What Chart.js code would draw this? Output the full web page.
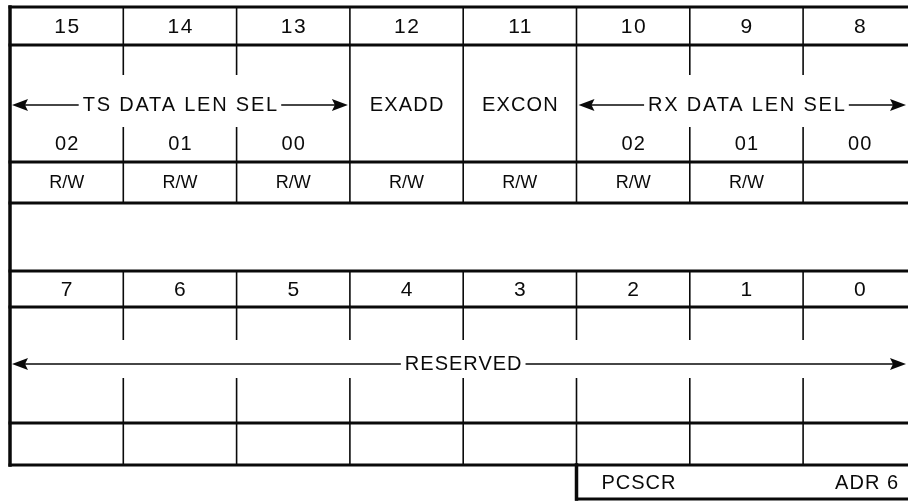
<!DOCTYPE html>
<html>
<head>
<meta charset="utf-8">
<script src="https://cdn.jsdelivr.net/npm/chart.js@4/dist/chart.umd.min.js"></script>
<style>
  html, body { margin: 0; padding: 0; background: #ffffff; }
  #wrap { width: 908px; height: 502px; position: relative; }
</style>
</head>
<body>
<div id="wrap"><canvas id="c"></canvas></div>
<script>
// ---------- data ----------
const topBits = ['15', '14', '13', '12', '11', '10', '9', '8'];
const bottomBits = ['7', '6', '5', '4', '3', '2', '1', '0'];
const fieldNames = ['TS DATA LEN SEL', 'EXADD', 'EXCON', 'RX DATA LEN SEL'];
const fieldStart = [0, 3, 4, 5];
const fieldEnd = [3, 4, 5, 8];
const fieldArrow = [true, false, false, true];
const subLabels = ['02', '01', '00', '', '', '02', '01', '00'];
const accessLabels = ['R/W', 'R/W', 'R/W', 'R/W', 'R/W', 'R/W', 'R/W', ''];
const bottomField = 'RESERVED';
const regName = 'PCSCR';
const regAddr = 'ADR 6';

// ---------- layout (row positions in the vertical scale's units) ----------
const ROW = {
  top: 7, numLine: 45, fieldLine: 162, accLine: 203,
  bTop: 271, bNum: 307, bField: 423, bBot: 465, tagBot: 499
};
const TXT = {
  num: 27, field: 105, sub: 144, acc: 183,
  bNum: 290, bField: 364, tag: 483
};
const TICK = { topA: 75, topB: 127, botA: 340, botB: 378 };
const NCOL = topBits.length;
const COLW = 113.3, X0 = 10, W = 908, H = 502;

// ---------- build line segments ----------
function seg(arr, x1, y1, x2, y2) {
  arr.push({x: x1, y: y1}, {x: x2, y: y2}, {x: x1, y: null});
}
const XR = (W - X0) / COLW + 0.2;
const thickH = [], thinV = [], border = [];
[ROW.top, ROW.numLine, ROW.fieldLine, ROW.accLine, ROW.bTop, ROW.bNum, ROW.bField, ROW.bBot]
  .forEach(y => seg(thickH, 0, y, XR, y));
seg(thickH, 5, ROW.tagBot, XR, ROW.tagBot);
seg(border, 0, ROW.top, 0, ROW.bBot);
seg(border, 5, ROW.bBot, 5, ROW.tagBot);

const fieldBounds = new Set();
fieldStart.forEach(v => fieldBounds.add(v));
fieldEnd.forEach(v => fieldBounds.add(v));
for (let k = 1; k < NCOL; k++) {
  seg(thinV, k, ROW.top, k, ROW.numLine);
  if (fieldBounds.has(k)) {
    seg(thinV, k, ROW.numLine, k, ROW.fieldLine);
  } else {
    seg(thinV, k, ROW.numLine, k, TICK.topA);
    seg(thinV, k, TICK.topB, k, ROW.fieldLine);
  }
  seg(thinV, k, ROW.fieldLine, k, ROW.accLine);
  seg(thinV, k, ROW.bTop, k, ROW.bNum);
  seg(thinV, k, ROW.bNum, k, TICK.botA);
  seg(thinV, k, TICK.botB, k, ROW.bField);
  seg(thinV, k, ROW.bField, k, ROW.bBot);
}

const FONT = '"Liberation Sans", Arial, Helvetica, sans-serif';

const textPlugin = {
  id: 'registerText',
  afterDatasetsDraw(chart) {
    const ctx = chart.ctx, xs = chart.scales.x, ys = chart.scales.y;
    const px = v => xs.getPixelForValue(v), py = v => ys.getPixelForValue(v);
    ctx.save();
    ctx.fillStyle = '#0a0a0a';
    ctx.strokeStyle = '#0a0a0a';
    ctx.textBaseline = 'middle';
    function txt(s, x, y, size, sp, align) {
      ctx.font = size + 'px ' + FONT;
      ctx.letterSpacing = sp + 'px';
      ctx.textAlign = align || 'center';
      let xx = x;
      if ((align || 'center') === 'center') xx += sp / 2;
      ctx.fillText(s, xx, y);
      return ctx.measureText(s).width - sp;
    }
    function head(x, y, dir) {
      const L = 16, hw = 6;
      ctx.beginPath();
      ctx.moveTo(x, y);
      ctx.lineTo(x - dir * L, y - hw);
      ctx.lineTo(x - dir * (L - 3), y);
      ctx.lineTo(x - dir * L, y + hw);
      ctx.closePath();
      ctx.fill();
    }
    function arrow(label, c0, c1, y, size, sp) {
      const xa = px(c0) + 2, xb = Math.min(px(c1), chart.chartArea.right) - 2;
      const cx = px((c0 + c1) / 2);
      const w = txt(label, cx, y, size, sp);
      ctx.lineWidth = 1.7;
      ctx.beginPath();
      ctx.moveTo(xa + 8, y); ctx.lineTo(cx - w / 2 - 4, y);
      ctx.moveTo(cx + w / 2 + 4, y); ctx.lineTo(xb - 8, y);
      ctx.stroke();
      head(xa, y, -1);
      head(xb, y, 1);
    }
    // bit numbers
    topBits.forEach((b, i) => txt(b, px(i + 0.5), py(TXT.num), 21, 1.5));
    bottomBits.forEach((b, i) => txt(b, px(i + 0.5), py(TXT.bNum), 21, 1.5));
    // fields
    fieldNames.forEach((f, i) => {
      if (fieldArrow[i]) arrow(f, fieldStart[i], fieldEnd[i], py(TXT.field), 20, 1.8);
      else txt(f, px((fieldStart[i] + fieldEnd[i]) / 2), py(TXT.field), 20, 1.2);
    });
    subLabels.forEach((s, i) => { if (s) txt(s, px(i + 0.5), py(TXT.sub), 20, 1.2); });
    accessLabels.forEach((s, i) => { if (s) txt(s, px(i + 0.5), py(TXT.acc), 18, 0); });
    arrow(bottomField, 0, NCOL, py(TXT.bField), 20, 1);
    // tag
    txt(regName, px(5) + 25, py(TXT.tag), 20, 1, 'left');
    txt(regAddr, chart.chartArea.right - 9, py(TXT.tag), 20, 1, 'right');
    ctx.restore();
  }
};

new Chart(document.getElementById('c'), {
  type: 'scatter',
  data: {
    datasets: [
      { data: thickH, showLine: true, borderColor: '#0a0a0a', borderWidth: 3, pointRadius: 0, spanGaps: false, clip: false, borderCapStyle: 'square' },
      { data: border, showLine: true, borderColor: '#0a0a0a', borderWidth: 3.5, pointRadius: 0, spanGaps: false, clip: false, borderCapStyle: 'square' },
      { data: thinV, showLine: true, borderColor: '#0a0a0a', borderWidth: 1.6, pointRadius: 0, spanGaps: false, clip: false }
    ]
  },
  options: {
    responsive: true,
    maintainAspectRatio: false,
    animation: false,
    events: [],
    layout: { padding: 0, autoPadding: false },
    plugins: { legend: { display: false }, tooltip: { enabled: false }, title: { display: false } },
    scales: {
      x: { type: 'linear', display: false, min: -X0 / COLW, max: (W - X0) / COLW },
      y: { type: 'linear', display: false, reverse: true, min: 0, max: H }
    }
  },
  plugins: [textPlugin]
});
</script>
</body>
</html>
